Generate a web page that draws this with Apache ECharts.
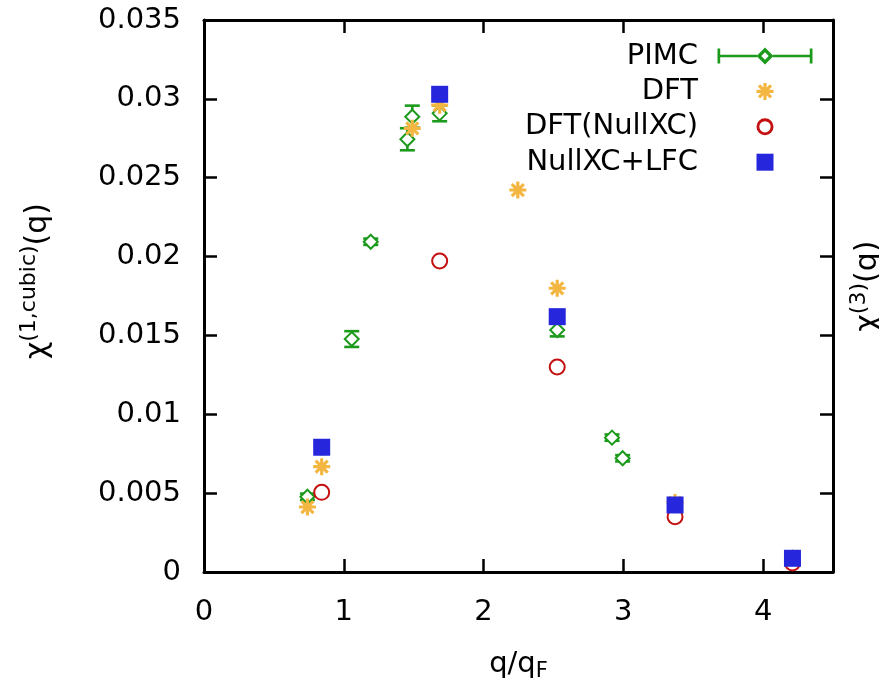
<!DOCTYPE html>
<html><head><meta charset="utf-8">
<script src="https://cdn.jsdelivr.net/npm/echarts@6/dist/echarts.min.js"></script>
<style>html,body{margin:0;padding:0;background:#fff}#c{width:879px;height:681px}</style>
</head><body><div id="c"></div>
<script>
// ---- data ----
const xTickValues = [0, 1, 2, 3, 4];
const yTickValues = [0, 0.005, 0.01, 0.015, 0.02, 0.025, 0.03, 0.035];
const seriesNames = ['PIMC', 'DFT', 'DFT(NullXC)', 'NullXC+LFC'];

const pimcQ   = [0.74, 0.842, 1.057, 1.193, 1.455, 1.49, 1.686, 2.527, 2.919, 2.995, 3.37, 4.21];
const pimcChi = [0.00477, 0.0079, 0.01477, 0.02094, 0.02744, 0.02887, 0.02908, 0.01534, 0.00852, 0.00721, 0.0042, 0.0009];
const pimcErr = [0.0002, 0.0002, 0.0005, 0.0002, 0.0007, 0.0007, 0.0005, 0.0004, 0.0002, 0.0002, 0.0002, 0.0001];

const dftQ   = [0.74, 0.842, 1.49, 1.686, 2.245, 2.527, 3.37, 4.21];
const dftChi = [0.00412, 0.00668, 0.02813, 0.0296, 0.02422, 0.01799, 0.0044, 0.0008];

const nullQ   = [0.842, 1.686, 2.527, 3.37, 4.21];
const nullChi = [0.00505, 0.01972, 0.0130, 0.00351, 0.00057];

const lfcQ   = [0.842, 1.686, 2.527, 3.37, 4.21];
const lfcChi = [0.00791, 0.03029, 0.01619, 0.00425, 0.00087];

// ---- styling ----
const F = 'DejaVu Sans';
const GREEN = '#1c9a1c', ORANGE = '#f3b640', RED = '#c41010', BLUE = '#2626dd';

function starPath() {
  const L = 8, t = 1.5; let s = 'path://';
  [0, 45, 90, 135].forEach(a => {
    const r = a * Math.PI / 180, dx = Math.cos(r), dy = Math.sin(r), nx = -dy, ny = dx;
    const p = [[L*dx + t*nx, L*dy + t*ny], [L*dx - t*nx, L*dy - t*ny], [-L*dx - t*nx, -L*dy - t*ny], [-L*dx + t*nx, -L*dy + t*ny]];
    s += 'M' + p.map(q => (q[0] + 10).toFixed(3) + ',' + (q[1] + 10).toFixed(3)).join('L') + 'Z';
  });
  return s;
}
const STAR = starPath();
const RING = 'path://M9,0A9,9 0 1,1 9,18A9,9 0 1,1 9,0ZM9,3A6,6 0 1,0 9,15A6,6 0 1,0 9,3Z';
const SQUARE = 'path://M0,0L10,0L10,10L0,10Z';
const PIMC_ICON = 'path://M0,7.2L39.5,7.2L39.5,9.8L0,9.8Z' +
  'M55.5,7.2L95,7.2L95,9.8L55.5,9.8Z' +
  'M0,1L2.7,1L2.7,16L0,16Z' +
  'M92.3,1L95,1L95,16L92.3,16Z' +
  'M47.5,0L56,8.5L47.5,17L39,8.5Z' +
  'M47.5,4.8L43.8,8.5L47.5,12.2L51.2,8.5Z';

const zip2 = (a, b) => a.map((v, i) => [v, b[i]]);
const zip3 = (a, b, c) => a.map((v, i) => [v, b[i], c[i]]);

const axisCommon = {
  type: 'value',
  axisLine: { show: true, onZero: false, lineStyle: { color: '#000', width: 3 } },
  axisTick: { show: true, inside: true, length: 13, lineStyle: { color: '#000', width: 2.5 } },
  splitLine: { show: false },
  minorTick: { show: false }
};

const chart = echarts.init(document.getElementById('c'), null, { renderer: 'canvas' });
chart.setOption({
  animation: false,
  backgroundColor: '#fff',
  grid: { left: 204, right: 46, top: 20, bottom: 109, containLabel: false, outerBoundsMode: 'none' },
  xAxis: [
    Object.assign({}, axisCommon, {
      position: 'bottom', min: xTickValues[0], max: 4.5, interval: 1,
      axisLabel: { show: true, margin: 26, fontSize: 29, fontFamily: F, color: '#000', showMaxLabel: false },
      name: '{b|q/q}{u|F}', nameLocation: 'middle', nameGap: 75,
      nameTextStyle: { color: '#000', rich: {
        b: { fontSize: 29, fontFamily: F, color: '#000' },
        u: { fontSize: 21, fontFamily: F, color: '#000', padding: [14, 0, 0, 0] } } }
    }),
    Object.assign({}, axisCommon, {
      position: 'top', min: xTickValues[0], max: 4.5, interval: 1,
      axisLabel: { show: false }
    })
  ],
  yAxis: [
    Object.assign({}, axisCommon, {
      position: 'left', min: yTickValues[0], max: yTickValues[yTickValues.length - 1], interval: 0.005,
      axisLabel: { show: true, margin: 23, fontSize: 29, fontFamily: F, color: '#000' },
      name: '{b|χ}{s|(1,cubic)}{b|(q)}', nameLocation: 'middle', nameGap: 146,
      nameTextStyle: { color: '#000', padding: [0, 0, 0, 30], rich: {
        b: { fontSize: 30, fontFamily: F, color: '#000' },
        s: { fontSize: 22, fontFamily: F, color: '#000', padding: [0, 0, 18, 0] } } }
    }),
    Object.assign({}, axisCommon, {
      position: 'right', min: yTickValues[0], max: yTickValues[yTickValues.length - 1], interval: 0.005,
      axisLabel: { show: false },
      name: '{b|χ}{s|(3)}{b|(q)}', nameLocation: 'middle', nameGap: 15,
      nameTextStyle: { color: '#000', padding: [0, 0, 0, 20], rich: {
        b: { fontSize: 30, fontFamily: F, color: '#000' },
        s: { fontSize: 22, fontFamily: F, color: '#000', padding: [0, 0, 18, 0] } } }
    })
  ],
  legend: {
    orient: 'vertical', align: 'right', right: 66.5, top: 41.5, padding: 0,
    itemWidth: 124, itemHeight: 17, itemGap: 6.4, symbolKeepAspect: true,
    selectedMode: false,
    textStyle: { fontSize: 29, fontFamily: F, color: '#000' },
    data: [
      { name: seriesNames[0], icon: PIMC_ICON, itemStyle: { color: GREEN, borderWidth: 0, opacity: 1 } },
      { name: seriesNames[1], icon: STAR, itemStyle: { color: ORANGE, borderWidth: 0, opacity: 1 } },
      { name: seriesNames[2], icon: RING, itemStyle: { color: RED, borderWidth: 0, opacity: 1 } },
      { name: seriesNames[3], icon: SQUARE, itemStyle: { color: BLUE, borderWidth: 0, opacity: 1 } }
    ]
  },
  series: [
    {
      name: seriesNames[0], type: 'custom', xAxisIndex: 0, yAxisIndex: 0,
      itemStyle: { color: GREEN },
      data: zip3(pimcQ, pimcChi, pimcErr),
      encode: { x: 0, y: 1 },
      renderItem: function (params, api) {
        const x = api.value(0), y = api.value(1), e = api.value(2);
        const lo = api.coord([x, y - e]), hi = api.coord([x, y + e]);
        const w = 7.5;
        const st = { stroke: GREEN, lineWidth: 2.6, fill: null };
        return { type: 'group', children: [
          { type: 'line', shape: { x1: lo[0], y1: lo[1], x2: hi[0], y2: hi[1] }, style: st },
          { type: 'line', shape: { x1: lo[0] - w, y1: lo[1], x2: lo[0] + w, y2: lo[1] }, style: st },
          { type: 'line', shape: { x1: hi[0] - w, y1: hi[1], x2: hi[0] + w, y2: hi[1] }, style: st }
        ] };
      }
    },
    {
      name: seriesNames[0], type: 'scatter', symbol: 'emptyDiamond', symbolSize: 14,
      itemStyle: { color: GREEN, borderColor: GREEN, borderWidth: 4, opacity: 1 },
      data: zip2(pimcQ, pimcChi)
    },
    {
      name: seriesNames[1], type: 'scatter', symbol: STAR, symbolSize: 17,
      itemStyle: { color: ORANGE, borderWidth: 0, opacity: 1 },
      data: zip2(dftQ, dftChi)
    },
    {
      name: seriesNames[2], type: 'scatter', symbol: 'emptyCircle', symbolSize: 15,
      itemStyle: { color: RED, borderColor: RED, borderWidth: 3.2, opacity: 1 },
      data: zip2(nullQ, nullChi)
    },
    {
      name: seriesNames[3], type: 'scatter', symbol: 'rect', symbolSize: 17,
      itemStyle: { color: BLUE, borderWidth: 0, opacity: 1 },
      data: zip2(lfcQ, lfcChi)
    }
  ]
});
</script>
</body></html>
